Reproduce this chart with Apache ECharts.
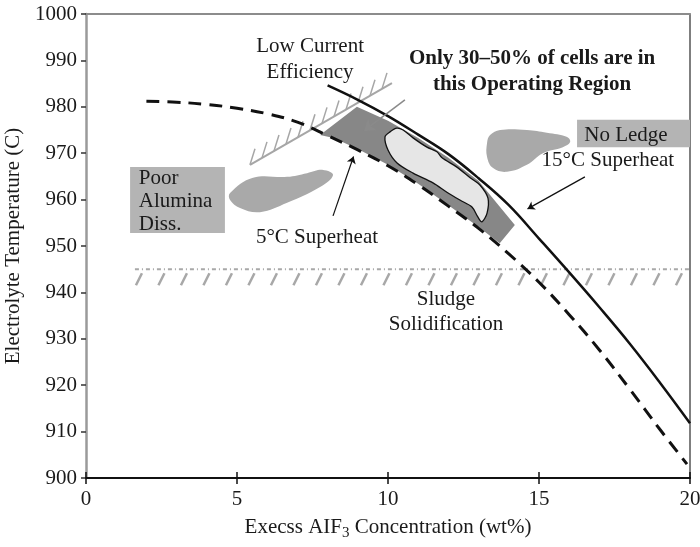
<!DOCTYPE html>
<html><head><meta charset="utf-8">
<script src="https://cdn.jsdelivr.net/npm/echarts@6/dist/echarts.min.js"></script>
<style>html,body{margin:0;background:#fff}#c{width:700px;height:547px}</style>
</head><body><div id="c"></div>
<script>
// ---- data (x = excess AlF3 wt%, y = temperature C) ----
const xTicks = [0, 5, 10, 15, 20];
const yTicks = [900, 910, 920, 930, 940, 950, 960, 970, 980, 990, 1000];

// 15C superheat line (solid)
const solidX = [8, 9, 10, 11, 12, 13, 14, 15, 16, 17, 18, 19, 20];
const solidY = [984.6, 981.5, 978.0, 974.0, 969.8, 964.6, 958.8, 951.6, 944.3, 936.8, 929.0, 920.6, 911.8];

// 5C superheat line (dashed)
const dashedX = [2, 3, 4, 5, 6, 7, 8, 9, 10, 11, 12, 13, 14, 15, 16, 17, 18, 19, 19.9];
const dashedY = [981.2, 981.0, 980.5, 979.7, 978.5, 976.7, 973.8, 970.7, 967.3, 963.2, 958.6, 953.8, 948.3, 942.2, 935.2, 927.6, 919.2, 910.5, 903.0];

// operating region (dark band)
const bandRegion = [[7.75, 973.9], [8.97, 980.0], [10, 977.0], [11, 973.3], [12, 969.0], [13, 964.0], [14.2, 954.5],
  [13.7, 950.6], [13, 954.1], [12, 958.8], [11, 963.4], [10, 967.5], [9, 970.9], [8.2, 973.3]];

// where the cells actually are (light blob)
const cellsBlob = [[10.07, 974.6], [10.29, 975.4], [10.50, 975.0], [10.83, 973.3], [11.29, 971.3], [11.62, 970.3],
  [11.79, 969.0], [12.28, 967.0], [12.72, 964.7], [13.05, 963.1], [13.31, 960.3], [13.28, 957.1], [13.11, 955.2],
  [12.98, 956.2], [12.78, 958.4], [12.38, 959.9], [11.95, 961.6], [11.49, 963.6], [10.83, 965.7], [10.30, 967.9],
  [10.0, 970.7], [9.90, 973.5]];

// gray blobs
const aluminaBlob = [[4.77, 961.4], [5.53, 964.7], [6.66, 964.9], [7.32, 965.7], [7.85, 966.4], [8.18, 965.3],
  [7.75, 962.7], [6.66, 959.3], [5.76, 957.3], [5.10, 958.2], [4.77, 959.9]];
const ledgeBlob = [[13.38, 973.9], [13.71, 975.0], [14.60, 975.0], [15.26, 974.4], [15.93, 973.5], [16.03, 972.4],
  [15.79, 971.3], [15.13, 970.0], [14.60, 967.5], [13.94, 966.0], [13.48, 966.8], [13.28, 969.2], [13.28, 972.2]];

// label boxes [corner, corner]
const aluminaBox = [[1.46, 967.0], [4.60, 952.8]];
const ledgeBox = [[16.26, 977.2], [20, 971.3]];

// hatched limit lines [start, end]
const lowCurrentLine = [[5.43, 967.5], [10.13, 985.1]];
const sludgeLine = [[1.62, 945], [20, 945]];

// arrows [from, to]
const arrowRegion = [[10.56, 981.5], [9.20, 974.8]];
const arrow5 = [[8.18, 956.5], [8.86, 969.3]];
const arrow15 = [[16.52, 964.9], [14.62, 958.0]];

// annotations
const annoText = ['Low Current\nEfficiency', 'Only 30–50% of cells are in\nthis Operating Region', 'No Ledge',
  '15°C Superheat', 'Poor\nAlumina\nDiss.', '5°C Superheat', 'Sludge\nSolidification'];
const annoPos = [[7.42, 990.1], [14.77, 987.5], [17.88, 973.9], [17.28, 968.5], [1.75, 959.5], [7.65, 951.9], [11.92, 935.7]];
const annoAlign = ['center', 'center', 'center', 'center', 'left', 'center', 'center'];
const annoBold = [false, true, false, false, false, false, false];
const annoLineH = [26, 26, 20, 20, 23, 20, 25];

// ---- chart ----
const FONT = '"Liberation Serif", "Times New Roman", serif';
const FS = 21;
const chart = echarts.init(document.getElementById('c'), null, {renderer: 'canvas'});

function zipXY(xs, ys) { return xs.map((x, i) => [x, ys[i]]); }

function polySeries(points, style, smooth, z) {
  return {
    type: 'custom', silent: true, z: z, data: [0], clip: false,
    renderItem: (p, api) => ({
      type: 'polygon',
      shape: {points: points.map(q => api.coord(q)), smooth: smooth},
      style: style
    })
  };
}
function rectSeries(box, color, z) {
  return {
    type: 'custom', silent: true, z: z, data: [0],
    renderItem: (p, api) => {
      const a = api.coord(box[0]), b = api.coord(box[1]);
      return {type: 'rect', shape: {x: Math.min(a[0], b[0]), y: Math.min(a[1], b[1]),
        width: Math.abs(b[0] - a[0]), height: Math.abs(b[1] - a[1])}, style: {fill: color}};
    }
  };
}
function hatchSeries(line, opt, z) {
  return {
    type: 'custom', silent: true, z: z, data: [0],
    renderItem: (p, api) => {
      const a = api.coord(line[0]), b = api.coord(line[1]);
      const kids = [{type: 'line', shape: {x1: a[0], y1: a[1], x2: b[0], y2: b[1]},
        style: {stroke: opt.color, lineWidth: opt.lineWidth, lineDash: opt.dash || null}}];
      for (let t = a[0] + opt.start; t <= b[0] - opt.endPad; t += opt.step) {
        const y = a[1] + (t - a[0]) * (b[1] - a[1]) / (b[0] - a[0]);
        kids.push({type: 'line', shape: {x1: t + opt.h[0], y1: y + opt.h[1], x2: t + opt.h[2], y2: y + opt.h[3]},
          style: {stroke: opt.color, lineWidth: opt.hw, lineCap: 'butt'}});
      }
      return {type: 'group', children: kids};
    }
  };
}
function arrowSeries(arrow, color, width, size, z) {
  return {
    type: 'lines', coordinateSystem: 'cartesian2d', silent: true, z: z,
    symbol: ['none', 'arrow'], symbolSize: size,
    lineStyle: {color: color, width: width, opacity: 1, curveness: 0},
    data: [{coords: arrow}]
  };
}
const textSeries = {
  type: 'custom', silent: true, z: 20, data: annoText.map((t, i) => i),
  renderItem: (p, api) => {
    const i = p.dataIndex;
    const pt = api.coord(annoPos[i]);
    return {
      type: 'text', x: pt[0], y: pt[1],
      style: {
        text: annoText[i], fill: '#1a1a1a', fontFamily: FONT, fontSize: FS,
        fontWeight: annoBold[i] ? 'bold' : 'normal',
        align: annoAlign[i], verticalAlign: 'middle', lineHeight: annoLineH[i]
      }
    };
  }
};

const option = {
  animation: false,
  backgroundColor: '#fff',
  grid: {left: 86, right: 10, top: 14, bottom: 69, containLabel: false, outerBoundsMode: 'none'},
  xAxis: [
    {
      type: 'value', min: 0, max: 20, interval: 5, position: 'bottom',
      axisLine: {show: true, onZero: false, lineStyle: {color: '#111', width: 2}},
      axisTick: {show: true, inside: false, length: 6, lineStyle: {color: '#111', width: 1.5}},
      axisLabel: {color: '#1a1a1a', fontFamily: FONT, fontSize: FS, margin: 11},
      splitLine: {show: false},
      name: 'Execss AIF{sub|3} Concentration (wt%)',
      nameLocation: 'middle', nameGap: 46,
      nameTextStyle: {
        color: '#1a1a1a', fontFamily: FONT, fontSize: FS, lineHeight: 26, verticalAlign: 'middle',
        rich: {sub: {fontFamily: FONT, fontSize: 15, lineHeight: 15, verticalAlign: 'bottom', color: '#1a1a1a'}}
      }
    },
    {
      type: 'value', min: 0, max: 20, interval: 5, position: 'bottom',
      axisLine: {show: false}, axisTick: {show: true, inside: true, length: 6, lineStyle: {color: '#111', width: 1.5}},
      axisLabel: {show: false}, splitLine: {show: false}
    },
    {
      type: 'value', min: 0, max: 20, interval: 5, position: 'top',
      axisLine: {show: true, onZero: false, lineStyle: {color: '#8c8c8c', width: 2}},
      axisTick: {show: false}, axisLabel: {show: false}, splitLine: {show: false}
    }
  ],
  yAxis: [
    {
      type: 'value', min: 900, max: 1000, interval: 10, position: 'left',
      axisLine: {show: true, onZero: false, lineStyle: {color: '#9a9a9a', width: 2.5}},
      axisTick: {show: true, inside: false, length: 5, lineStyle: {color: '#333', width: 1.5}},
      axisLabel: {color: '#1a1a1a', fontFamily: FONT, fontSize: FS, margin: 9,
        formatter: v => yTicks.includes(v) ? String(v) : ''},
      splitLine: {show: false},
      name: 'Electrolyte Temperature (C)', nameLocation: 'middle', nameGap: 62,
      nameTextStyle: {color: '#1a1a1a', fontFamily: FONT, fontSize: FS}
    },
    {
      type: 'value', min: 900, max: 1000, interval: 10, position: 'right',
      axisLine: {show: true, onZero: false, lineStyle: {color: '#555', width: 1.5}},
      axisTick: {show: false}, axisLabel: {show: false}, splitLine: {show: false}
    }
  ],
  series: [
    rectSeries(aluminaBox, '#b4b4b4', 1),
    rectSeries(ledgeBox, '#b4b4b4', 1),
    polySeries(aluminaBlob, {fill: '#a9a9a9'}, 0.4, 2),
    polySeries(ledgeBlob, {fill: '#a9a9a9'}, 0.4, 2),
    polySeries(bandRegion, {fill: '#878787'}, 0, 3),
    polySeries(cellsBlob, {fill: '#e6e6e6', stroke: '#111', lineWidth: 1.3}, 0.3, 4),
    hatchSeries(lowCurrentLine, {color: '#a6a6a6', lineWidth: 2, hw: 1.5, step: 12, start: 0, endPad: 0,
      h: [0, 0, 5, -16]}, 5),
    hatchSeries(sludgeLine, {color: '#a8a8a8', lineWidth: 2, hw: 2.5, step: 22.5, start: 0, endPad: 4,
      dash: [4, 3, 1, 3], h: [7, 4, 1, 16]}, 5),
    {
      type: 'line', z: 6, data: zipXY(dashedX, dashedY), smooth: 0.4, symbol: 'none',
      lineStyle: {color: '#111', width: 3, type: [13, 8]}
    },
    {
      type: 'line', z: 6, data: zipXY(solidX, solidY), smooth: 0.4, symbol: 'none',
      lineStyle: {color: '#111', width: 2.5}
    },
    arrowSeries(arrowRegion, '#8a8a8a', 1.5, 11, 8),
    arrowSeries(arrow5, '#111', 1.2, 7, 8),
    arrowSeries(arrow15, '#111', 1.2, 7, 8),
    textSeries
  ]
};
chart.setOption(option);
</script>
</body></html>
